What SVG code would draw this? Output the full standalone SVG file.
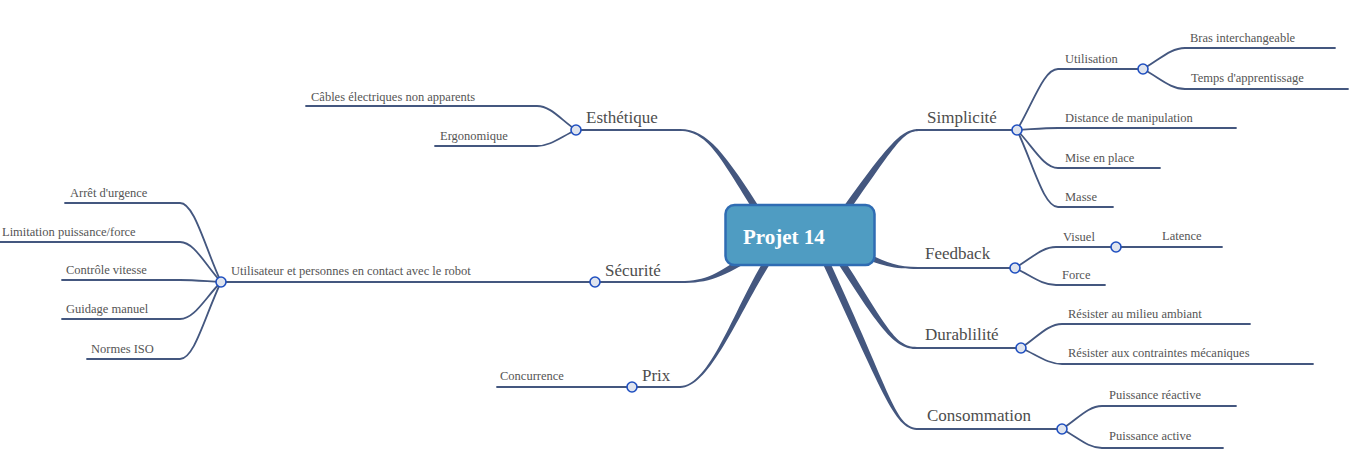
<svg xmlns="http://www.w3.org/2000/svg" width="1350" height="454" viewBox="0 0 1350 454">
<style>
.ln{fill:none;stroke:#44577f;stroke-width:1.8;stroke-linecap:round}
.br{fill:#44577f;stroke:none}
.dot{fill:#dfe4ee;stroke:#1f4fc0;stroke-width:1.6}
.main{font-family:"Liberation Serif","Times New Roman",serif;font-size:17px;fill:#4d4d4d}
.sub{font-family:"Liberation Serif","Times New Roman",serif;font-size:12.5px;fill:#555555}
.title{font-family:"Liberation Serif","Times New Roman",serif;font-size:21px;font-weight:bold;fill:#ffffff}
</style>
<rect width="1350" height="454" fill="#ffffff"/>
<g id="connectors">
<path class="br" d="M680,129 C710,129 727.9,158.1 772.9,228.1 L767.1,231.9 C722.1,161.9 710,131 680,131 Z"/>
<path class="br" d="M920,129 C902,129 892.1,138 832.1,223 L837.9,227 C897.9,142 902,131 920,131 Z"/>
<path class="br" d="M680,281 C710,281 718.1,272 758.1,247 L761.9,253 C721.9,278 710,283 680,283 Z"/>
<path class="br" d="M918,267 C890,267 881.4,258.8 841.4,241.8 L838.6,248.2 C878.6,265.2 890,269 918,269 Z"/>
<path class="br" d="M680,386 C712,386 737.1,298 772.1,248 L777.9,252 C742.9,302 712,388 680,388 Z"/>
<path class="br" d="M917,347 C895,347 887.9,328.1 842.9,258.1 L837.1,261.9 C882.1,331.9 895,349 917,349 Z"/>
<path class="br" d="M919,428 C895,428 893.2,398.5 828.2,258.5 L821.8,261.5 C886.8,401.5 895,430 919,430 Z"/>
<path class="ln" d="M576,130 H680"/>
<path class="ln" d="M221,282 H680"/>
<path class="ln" d="M497,387 H680"/>
<path class="ln" d="M920,130 H1017"/>
<path class="ln" d="M918,268 H1015"/>
<path class="ln" d="M917,348 H1021"/>
<path class="ln" d="M919,429 H1062"/>
<path class="ln" d="M306,106 H537 C550.65,106 560.4,119.2 576,130"/>
<path class="ln" d="M435,146 H537 C550.65,146 560.4,137.2 576,130"/>
<path class="ln" d="M65,203 H180 C194.4,203 204.6,246.5 221,282"/>
<path class="ln" d="M0,242 H180 C194.4,242 204.6,264 221,282"/>
<path class="ln" d="M62,280 H180 C194.4,280 204.6,281.1 221,282"/>
<path class="ln" d="M62,319 H180 C194.4,319 204.6,298.65 221,282"/>
<path class="ln" d="M87,359 H180 C194.4,359 204.6,316.65 221,282"/>
<path class="ln" d="M1143,69 H1058 C1043.65,69 1033.4,102.55 1017,130"/>
<path class="ln" d="M1236,128 H1058 C1043.65,128 1033.4,129.1 1017,130"/>
<path class="ln" d="M1160,168 H1058 C1043.65,168 1033.4,147.1 1017,130"/>
<path class="ln" d="M1113,207 H1058 C1043.65,207 1033.4,164.65 1017,130"/>
<path class="ln" d="M1335,48 H1185 C1170.3,48 1159.8,59.55 1143,69"/>
<path class="ln" d="M1348,89 H1185 C1170.3,89 1159.8,78 1143,69"/>
<path class="ln" d="M1116,247 H1056 C1041.65,247 1031.4,258.55 1015,268"/>
<path class="ln" d="M1105,285 H1056 C1041.65,285 1031.4,275.65 1015,268"/>
<path class="ln" d="M1116,247 H1222"/>
<path class="ln" d="M1250,324 H1062 C1047.65,324 1037.4,337.2 1021,348"/>
<path class="ln" d="M1313,364 H1062 C1047.65,364 1037.4,355.2 1021,348"/>
<path class="ln" d="M1236,406 H1102 C1088,406 1078,418.65 1062,429"/>
<path class="ln" d="M1223,448 H1102 C1088,448 1078,437.55 1062,429"/>
</g>
<g id="node-root">
<rect x="725.5" y="205" width="149" height="60" rx="9" fill="#4f9cc2" stroke="#2f6cb3" stroke-width="2.5"/>
<text class="title" x="743" y="244">Projet 14</text>
</g>
<g id="node-esthetique"><circle class="dot" cx="576" cy="130" r="5"/><text class="main" x="586" y="123">Esthétique</text></g>
<g id="node-cables"><text class="sub" x="311" y="101">Câbles électriques non apparents</text></g>
<g id="node-ergonomique"><text class="sub" x="440" y="140">Ergonomique</text></g>
<g id="node-securite"><circle class="dot" cx="595" cy="282" r="5"/><text class="main" x="605" y="276">Sécurité</text></g>
<g id="node-utilisateur"><circle class="dot" cx="221" cy="282" r="5"/><text class="sub" x="231" y="275">Utilisateur et personnes en contact avec le robot</text></g>
<g id="node-arret"><text class="sub" x="70" y="197">Arrêt d'urgence</text></g>
<g id="node-limitation"><text class="sub" x="2" y="236">Limitation puissance/force</text></g>
<g id="node-controle"><text class="sub" x="66" y="274">Contrôle vitesse</text></g>
<g id="node-guidage"><text class="sub" x="66" y="313">Guidage manuel</text></g>
<g id="node-normes"><text class="sub" x="91" y="353">Normes ISO</text></g>
<g id="node-prix"><circle class="dot" cx="632" cy="387" r="5"/><text class="main" x="642" y="381">Prix</text></g>
<g id="node-concurrence"><text class="sub" x="500" y="380">Concurrence</text></g>
<g id="node-simplicite"><circle class="dot" cx="1017" cy="130" r="5"/><text class="main" x="927" y="123">Simplicité</text></g>
<g id="node-utilisation"><circle class="dot" cx="1143" cy="69" r="5"/><text class="sub" x="1065" y="63">Utilisation</text></g>
<g id="node-bras"><text class="sub" x="1190" y="42">Bras interchangeable</text></g>
<g id="node-temps"><text class="sub" x="1191" y="82">Temps d'apprentissage</text></g>
<g id="node-distance"><text class="sub" x="1065" y="122">Distance de manipulation</text></g>
<g id="node-mise"><text class="sub" x="1065" y="162">Mise en place</text></g>
<g id="node-masse"><text class="sub" x="1065" y="201">Masse</text></g>
<g id="node-feedback"><circle class="dot" cx="1015" cy="268" r="5"/><text class="main" x="925" y="259">Feedback</text></g>
<g id="node-visuel"><circle class="dot" cx="1116" cy="247" r="5"/><text class="sub" x="1063" y="241">Visuel</text></g>
<g id="node-latence"><text class="sub" x="1162" y="240">Latence</text></g>
<g id="node-force"><text class="sub" x="1062" y="279">Force</text></g>
<g id="node-durabilite"><circle class="dot" cx="1021" cy="348" r="5"/><text class="main" x="925" y="340">Durablilité</text></g>
<g id="node-milieu"><text class="sub" x="1068" y="318">Résister au milieu ambiant</text></g>
<g id="node-contraintes"><text class="sub" x="1068" y="357">Résister aux contraintes mécaniques</text></g>
<g id="node-consommation"><circle class="dot" cx="1062" cy="429" r="5"/><text class="main" x="927" y="421">Consommation</text></g>
<g id="node-reactive"><text class="sub" x="1109" y="399">Puissance réactive</text></g>
<g id="node-active"><text class="sub" x="1109" y="440">Puissance active</text></g>
</svg>
